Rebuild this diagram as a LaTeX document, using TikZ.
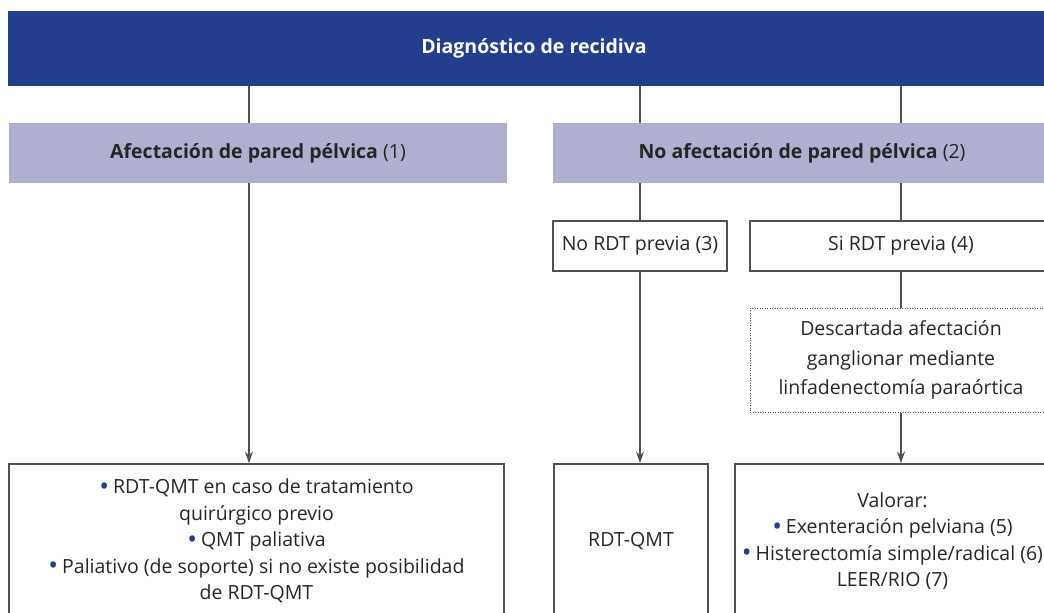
\documentclass[tikz,border=0pt]{standalone}
\usepackage{fontspec}
\setmainfont{Open Sans}
\usetikzlibrary{arrows.meta}
\usetikzlibrary{calc}
\definecolor{azul}{RGB}{36,62,142}
\definecolor{lila}{RGB}{175,175,208}
\definecolor{linea}{RGB}{80,80,80}
\newcommand{\pto}{\raisebox{-1.5pt}{\fontsize{26}{0}\selectfont\color{azul}\textbullet}\hspace{0.2em}}

\begin{document}
\begin{tikzpicture}[x=1pt, y=-1pt,
        every node/.append style={font=\fontsize{19.5}{26.5}\selectfont},
        caja/.style={draw=linea, line width=1.2pt, rectangle, inner sep=0pt,
            align=center, text=black!85},
        cab/.style={fill=lila, rectangle, inner sep=0pt, align=center,
            text=black!85, minimum height=60pt},
        flecha/.style={draw=linea, line width=1.3pt},
        >={Stealth[length=12pt,width=8pt]}]
        \useasboundingbox (0,0) rectangle (1044,613);
        \clip (0,0) rectangle (1044,613);
        \node[fill=azul, rectangle, minimum width=1052pt, minimum height=75pt,
            text=white] (diag) at (534,48.5) {\bfseries Diagnóstico de recidiva};
        \node[cab, minimum width=498pt] (afec) at (258,153)
            {\bfseries Afectación de pared pélvica\mdseries\ (1)};
        \node[cab, minimum width=498pt] (noafec) at (802,153)
            {\bfseries No afectación de pared pélvica\mdseries\ (2)};
        \node[caja, minimum width=174pt, minimum height=50pt] (nordt)
            at (640,246) {No RDT previa (3)};
        \node[caja, minimum width=302pt, minimum height=104pt, line width=1pt,
            dash pattern=on 1pt off 1.5pt,
            font=\fontsize{19.5}{29.5}\selectfont] (desc) at (901,360)
            {Descartada afectación\\ganglionar mediante\\linfadenectomía paraórtica};
        \node[caja, minimum width=302pt, minimum height=50pt] (sirdt)
            at (901,246) {Si RDT previa (4)};
        \node[caja, minimum width=495pt, minimum height=154pt] (izq)
            at (256.5,541) {\pto RDT-QMT en caso de tratamiento\\quirúrgico previo\\
            \pto QMT paliativa\\\pto Paliativo (de soporte) si no existe posibilidad\\
            de RDT-QMT};
        \node[caja, minimum width=154pt, minimum height=154pt] (rdt)
            at (631,541) {RDT-QMT};
        \node[caja, minimum width=315pt, minimum height=154pt] (val)
            at (892.5,541) {Valorar:\\\pto Exenteración pelviana (5)\\
            \pto Histerectomía simple/radical (6)\\LEER/RIO (7)};
        \coordinate (izqx) at (249,0);
        \draw[flecha] (izqx |- diag.south) -- (izqx |- afec.north);
        \draw[flecha,->] (izqx |- afec.south) -- (izqx |- izq.north);
        \draw[flecha] (nordt.north |- diag.south) -- (nordt.north |- noafec.north);
        \draw[flecha] (sirdt.north |- diag.south) -- (sirdt.north |- noafec.north);
        \draw[flecha] (nordt.north |- noafec.south) -- (nordt);
        \draw[flecha] (sirdt.north |- noafec.south) -- (sirdt);
        \draw[flecha] (sirdt) -- (desc);
        \draw[flecha,->] (nordt.south) -- (nordt.south |- rdt.north);
        \draw[flecha,->] (desc.south) -- (desc.south |- val.north);
    \end{tikzpicture}
\end{document}
